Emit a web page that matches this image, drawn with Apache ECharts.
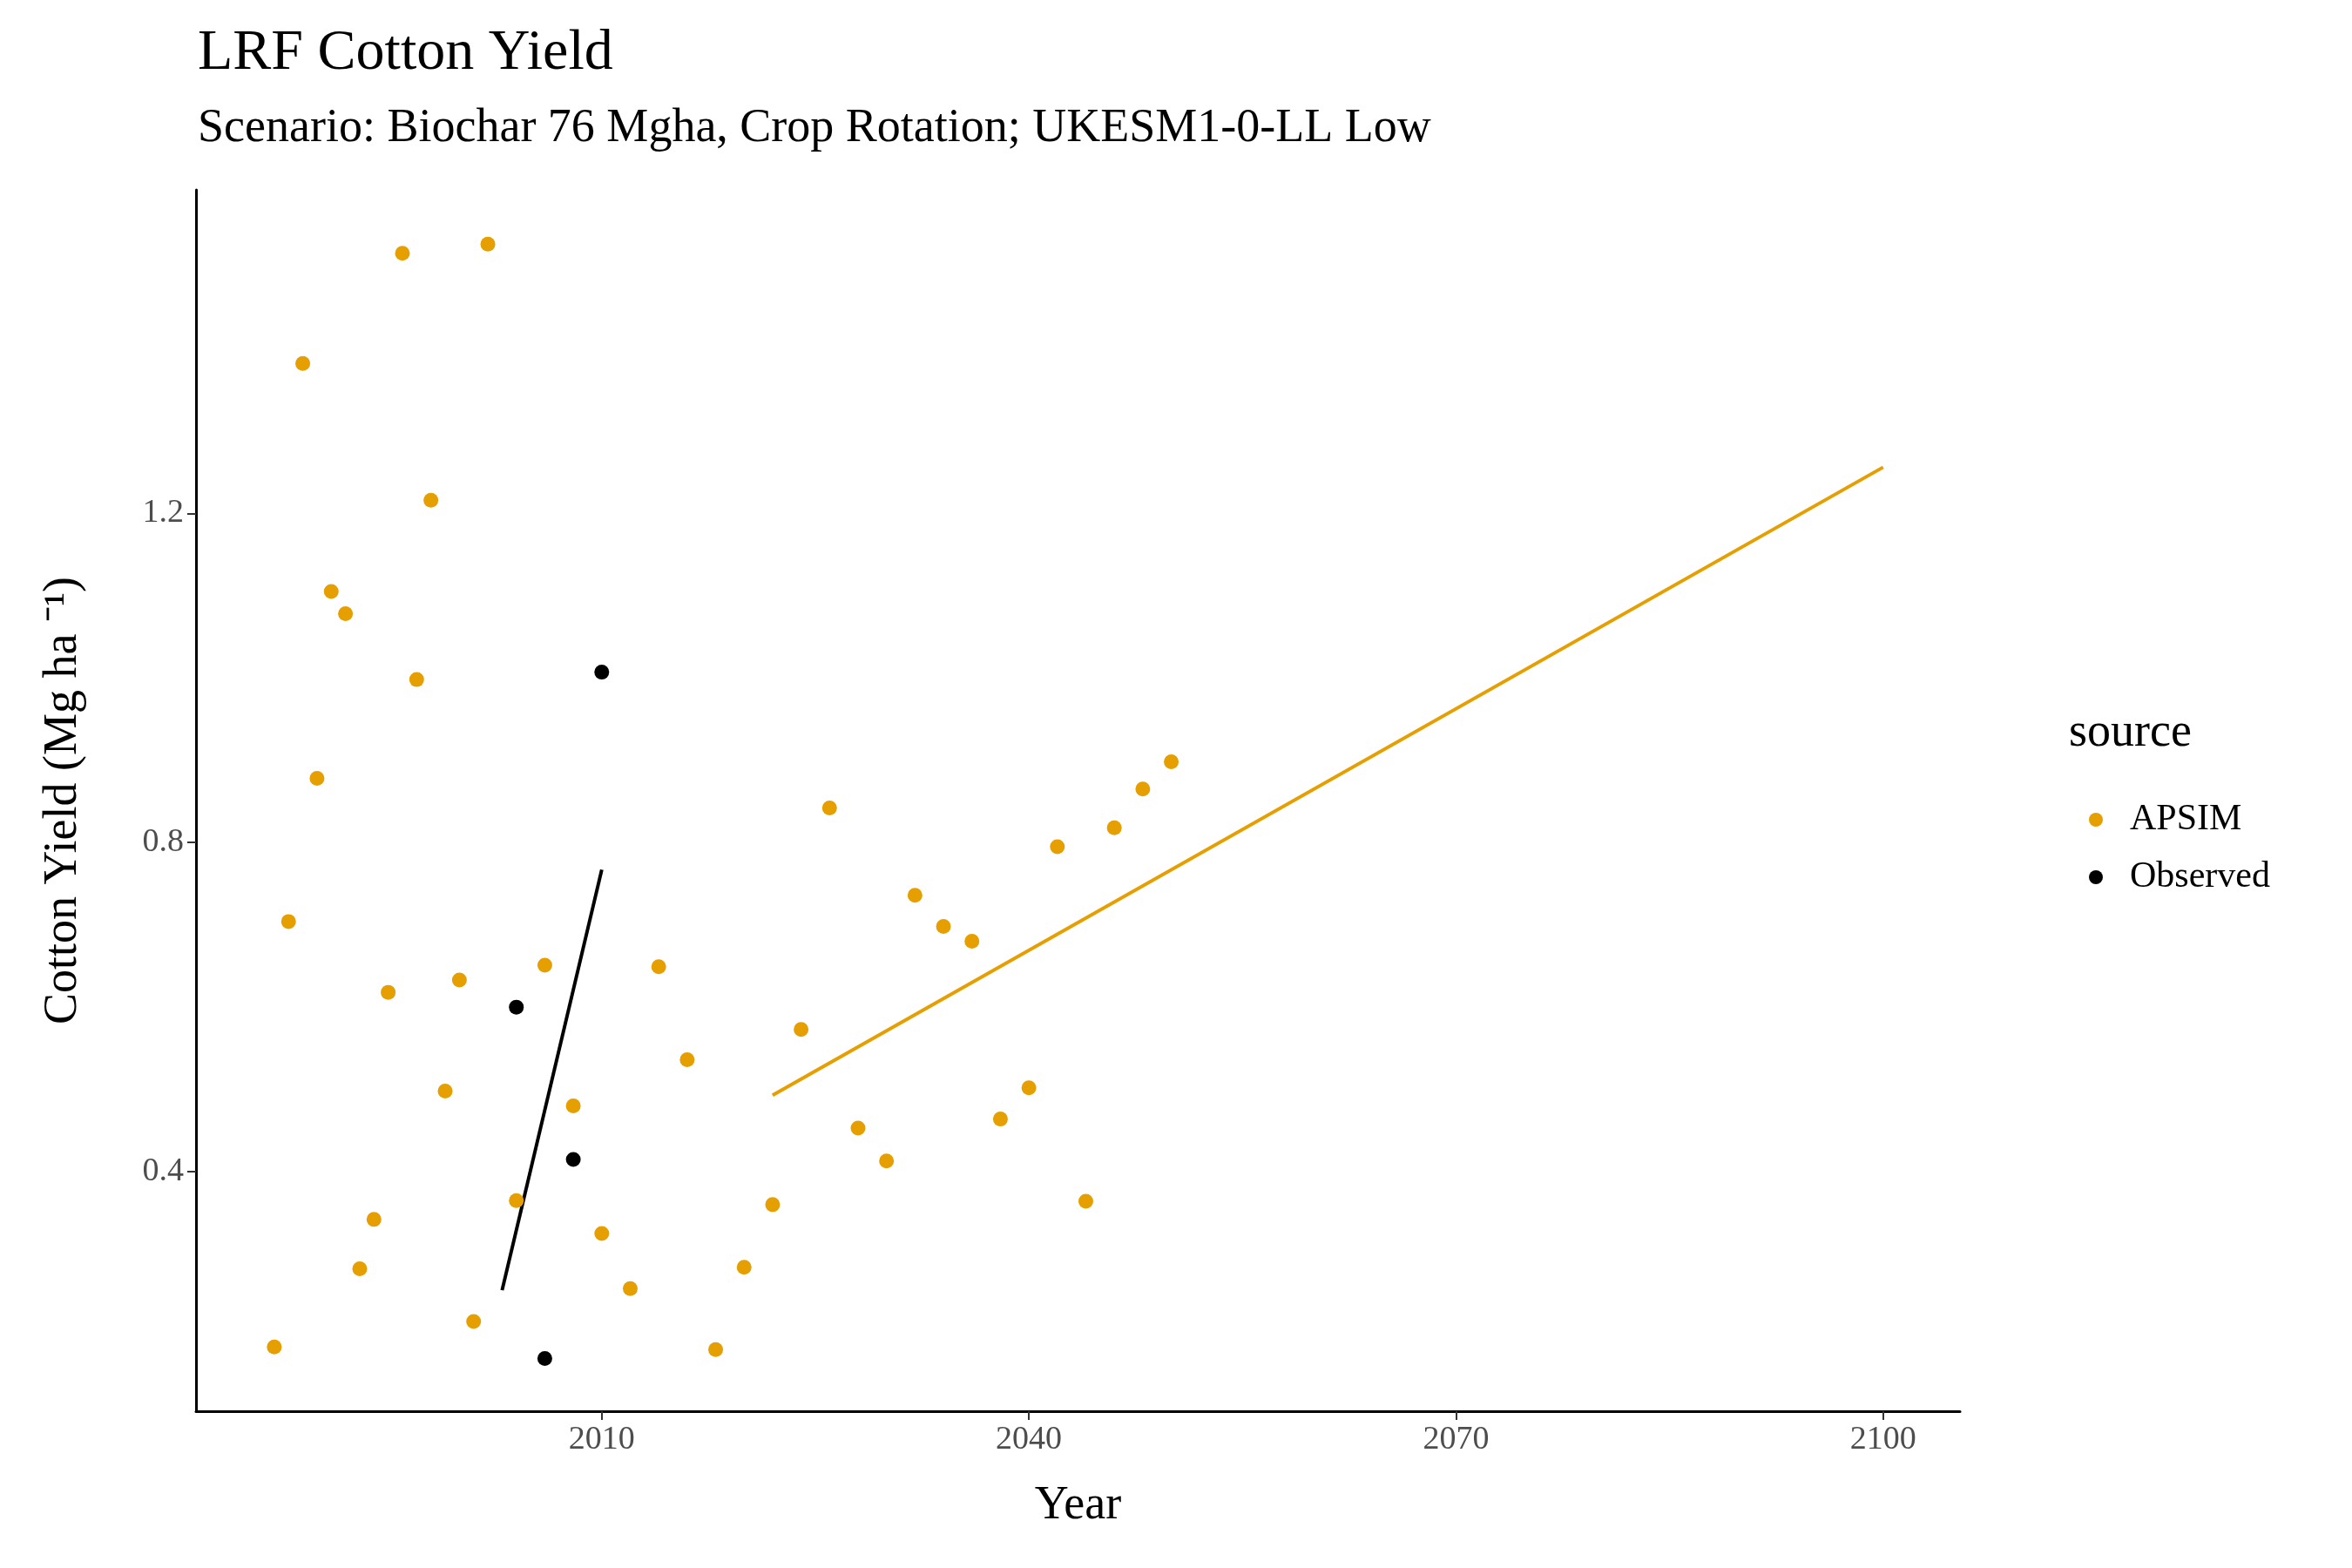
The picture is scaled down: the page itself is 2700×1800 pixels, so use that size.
<!DOCTYPE html>
<html><head><meta charset="utf-8">
<script src="https://cdn.jsdelivr.net/npm/echarts@6/dist/echarts.min.js"></script>
<style>body{margin:0}#main{width:2700px;height:1800px;background:#fff}</style>
</head><body><div id="main"></div>
<script>
var apsimYears = [1987,1988,1989,1990,1991,1992,1993,1994,1995,1996,1997,1998,1999,2000,2001,2002,2004,2006,2008,2010,2012,2014,2016,2018,2020,2022,2024,2026,2028,2030,2032,2034,2036,2038,2040,2042,2044,2046,2048,2050];
var apsimYield = [0.187,0.704,1.382,0.878,1.105,1.078,0.282,0.342,0.618,1.516,0.998,1.216,0.498,0.633,0.218,1.527,0.365,0.651,0.48,0.325,0.258,0.649,0.536,0.184,0.284,0.36,0.573,0.842,0.453,0.413,0.736,0.698,0.68,0.464,0.502,0.795,0.364,0.818,0.865,0.898];
var obsYears = [2004,2006,2008,2010];
var obsYield = [0.6,0.173,0.415,1.007];
var obsTrend = [[2003,0.256],[2010,0.767]];
var apsimTrend = [[2022,0.493],[2100,1.256]];
var xTicks = [2010,2040,2070,2100];
var yTicks = [0.4,0.8,1.2];

function pairs(xs, ys){ return xs.map(function(x,i){ return [x, ys[i]]; }); }
var font = 'Liberation Serif';
var orange = '#E69F00';
var chart = echarts.init(document.getElementById('main'));
chart.setOption({
  animation: false,
  textStyle: {fontFamily: font},
  title: {
    text: 'LRF Cotton Yield',
    subtext: 'Scenario: Biochar 76 Mgha, Crop Rotation; UKESM1-0-LL Low',
    left: 222, top: 24, itemGap: 26,
    textStyle: {fontFamily: font, fontSize: 66, fontWeight: 'normal', color: '#000'},
    subtextStyle: {fontFamily: font, fontSize: 54, color: '#000'}
  },
  grid: {left: 225, right: 450, top: 218, bottom: 180},
  xAxis: {
    type: 'value', min: 1981.5, max: 2105.4,
    name: 'Year', nameLocation: 'middle', nameGap: 82,
    nameTextStyle: {fontFamily: font, fontSize: 54, color: '#000'},
    splitLine: {show: false},
    axisLine: {lineStyle: {color: '#000', width: 3}},
    axisTick: {show: true, length: 10, lineStyle: {color: '#333', width: 2}, customValues: xTicks},
    axisLabel: {fontFamily: font, fontSize: 38, color: '#4d4d4d', margin: 14, customValues: xTicks,
      formatter: function(v){ return String(v); }}
  },
  yAxis: {
    type: 'value', min: 0.109, max: 1.593,
    name: 'Cotton Yield (Mg ha \u207B\u00B9)', nameLocation: 'middle', nameGap: 125,
    nameTextStyle: {fontFamily: font, fontSize: 54, color: '#000'},
    splitLine: {show: false},
    axisLine: {show: true, lineStyle: {color: '#000', width: 3}},
    axisTick: {show: true, length: 10, lineStyle: {color: '#333', width: 2}, customValues: yTicks},
    axisLabel: {fontFamily: font, fontSize: 38, color: '#4d4d4d', margin: 14, customValues: yTicks,
      formatter: function(v){ return v.toFixed(1); }}
  },
  legend: {
    orient: 'vertical', left: 2393, top: 915, itemGap: 24,
    icon: 'circle', itemWidth: 16, itemHeight: 16,
    textStyle: {fontFamily: font, fontSize: 42, color: '#000', padding: [0,0,0,26]},
    data: ['APSIM', 'Observed']
  },
  graphic: [{type: 'text', left: 2375, top: 815,
    style: {text: 'source', fontFamily: font, fontSize: 54, fill: '#000'}}],
  series: [
    {name: 'APSIM', type: 'scatter', symbolSize: 17, itemStyle: {color: orange, opacity: 1}, data: pairs(apsimYears, apsimYield), z: 3},
    {name: 'Observed', type: 'scatter', symbolSize: 17, itemStyle: {color: '#000', opacity: 1}, data: pairs(obsYears, obsYield), z: 3},
    {name: 'APSIM trend', type: 'line', showSymbol: false, lineStyle: {color: orange, width: 4}, data: apsimTrend, z: 2},
    {name: 'Observed trend', type: 'line', showSymbol: false, lineStyle: {color: '#000', width: 4}, data: obsTrend, z: 2}
  ]
});
</script></body></html>
